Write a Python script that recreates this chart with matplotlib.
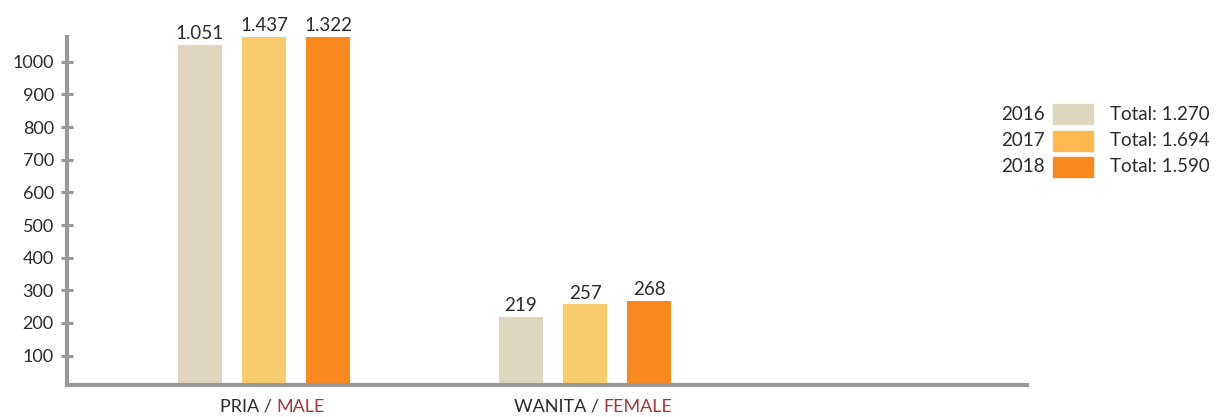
import matplotlib
matplotlib.use("Agg")
import matplotlib.pyplot as plt
import numpy as np
from matplotlib.offsetbox import AnnotationBbox, HPacker, TextArea
from matplotlib.patches import Rectangle

plt.rcParams["font.family"] = ["Lato", "DejaVu Sans"]

# data
groups_id = ["PRIA / ", "WANITA / "]
groups_en = ["MALE", "FEMALE"]
years = ["2016", "2017", "2018"]
values = {
    "2016": [1051, 219],
    "2017": [1437, 257],
    "2018": [1322, 268],
}
labels = {
    "2016": ["1.051", "219"],
    "2017": ["1.437", "257"],
    "2018": ["1.322", "268"],
}
totals = ["Total: 1.270", "Total: 1.694", "Total: 1.590"]
yticks = [100, 200, 300, 400, 500, 600, 700, 800, 900, 1000]

bar_colors = ["#E0D5BE", "#F8CC6C", "#F7891F"]
legend_colors = ["#E0D5BE", "#FDB94F", "#F7891F"]
axis_grey = "#999999"
text_dark = "#2B2B2B"
en_red = "#A0393E"

W, H = 1219, 417
fig = plt.figure(figsize=(W / 100, H / 100), dpi=100)
ax = fig.add_axes([67 / W, 32 / H, 960 / W, 348 / H])

ymax = 1076
x = np.arange(len(groups_id))
width = 0.137
step = 0.1994
for i, yr in enumerate(years):
    pos = x + (i - 1) * step
    ax.bar(pos, values[yr], width, color=bar_colors[i], zorder=1)
    for p, v, lab in zip(pos, values[yr], labels[yr]):
        ax.annotate(lab, (p, min(v, ymax)), xytext=(0, 2), textcoords="offset points",
                    ha="center", va="bottom", fontsize=13.5, color=text_dark,
                    annotation_clip=False)

ax.set_xlim(-0.6137, 2.377)
ax.set_ylim(10, ymax)
ax.set_yticks(yticks)
ax.set_yticklabels([str(t) for t in yticks])
ax.set_xticks([])
ax.tick_params(axis="y", direction="inout", length=9, width=2.2, color=axis_grey,
               labelsize=13, labelcolor=text_dark, pad=5)
for side in ["top", "right"]:
    ax.spines[side].set_visible(False)
for side in ["left", "bottom"]:
    ax.spines[side].set_color(axis_grey)
    ax.spines[side].set_linewidth(3)
    ax.spines[side].set_zorder(3)

# two-colour category labels
for xi, g_id, g_en in zip(x, groups_id, groups_en):
    box = HPacker(children=[
        TextArea(g_id, textprops=dict(color=text_dark, fontsize=13)),
        TextArea(g_en, textprops=dict(color=en_red, fontsize=13)),
    ], pad=0, sep=0)
    ab = AnnotationBbox(box, (xi, 0), xycoords=("data", "axes fraction"),
                        xybox=(6, -10), boxcoords="offset points",
                        box_alignment=(0.5, 1), frameon=False, annotation_clip=False)
    ax.add_artist(ab)

# legend on the right
for i, (yr, tot) in enumerate(zip(years, totals)):
    yc = H - (114 + i * 26.5)
    fig.text(1045 / W, yc / H, yr, ha="right", va="center", fontsize=13.5, color=text_dark)
    fig.add_artist(Rectangle((1053 / W, (yc - 10) / H), 40 / W, 20 / H,
                             transform=fig.transFigure, color=legend_colors[i]))
    fig.text(1110 / W, yc / H, tot, ha="left", va="center", fontsize=13.5, color=text_dark)

fig.savefig("out.png", dpi=100)
